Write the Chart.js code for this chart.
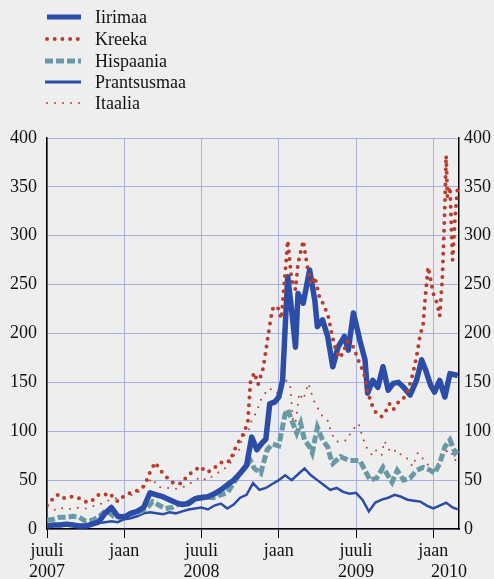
<!DOCTYPE html>
<html>
<head>
<meta charset="utf-8">
<script src="https://cdn.jsdelivr.net/npm/chart.js@4/dist/chart.umd.min.js"></script>
<style>
  body { margin: 0; background: #eeeeee; }
  #wrap { position: relative; width: 494px; height: 579px; }
  .leg { position: absolute; left: 45px; height: 22px; font: 18px "Liberation Serif", serif; color: #111; }
  .leg svg { position: absolute; left: 0; top: 6px; }
  .leg span { position: absolute; left: 50px; top: 0; white-space: nowrap; line-height: 22px; }
</style>
</head>
<body>
<div id="wrap">
  <canvas id="chart" width="494" height="579"></canvas>
  <div class="leg" style="top:6px"><svg width="40" height="10"><line x1="2" y1="5" x2="36" y2="5" stroke="#2b4da8" stroke-width="5"/></svg><span>Iirimaa</span></div>
  <div class="leg" style="top:28px"><svg width="40" height="10"><line x1="2" y1="5" x2="36" y2="5" stroke="#b93d2e" stroke-width="4" stroke-dasharray="0 7.7" stroke-linecap="round"/></svg><span>Kreeka</span></div>
  <div class="leg" style="top:50px"><svg width="40" height="10"><line x1="0" y1="5" x2="36" y2="5" stroke="#6a99a6" stroke-width="5" stroke-dasharray="8 3"/></svg><span>Hispaania</span></div>
  <div class="leg" style="top:71px"><svg width="40" height="10"><line x1="0" y1="5" x2="36" y2="5" stroke="#2b4da8" stroke-width="3"/></svg><span>Prantsusmaa</span></div>
  <div class="leg" style="top:92px"><svg width="40" height="10"><line x1="2" y1="5" x2="36" y2="5" stroke="#b93d2e" stroke-width="2" stroke-dasharray="0 8" stroke-linecap="round"/></svg><span>Itaalia</span></div>
</div>
<script>
// kuud alates juuli 2007 (0 = juuli 2007, 6 = jaan 2008, ...)
const irlM = [0,0.5,1,1.5,2,2.5,3,3.5,4,4.5,5,5.5,6,6.5,7,7.5,8,8.5,9,9.5,10,10.5,11,11.5,12,12.5,13,13.5,14,14.5,15,15.5,
  15.9,16.3,16.7,17,17.3,17.7,18,18.3,18.5,18.7,19,19.3,19.5,19.9,20.4,20.8,21,21.4,21.8,22.2,
  22.6,23.1,23.4,23.8,24.3,24.7,24.9,25.3,25.7,26.1,26.5,26.9,27.3,27.7,28.2,28.7,29.1,29.4,29.8,30.1,30.5,30.9,31.3,31.9];
const irlV = [3,4,4,5,4,3,3,5,7,16,22,13,12,16,18,22,37,35,33,30,27,25,26,31,32,33,36,40,45,50,57,65,
  94,81,88,92,128,130,135,152,207,258,224,186,241,231,265,234,207,214,197,166,
  186,197,183,221,193,173,139,152,145,166,142,149,150,145,137,152,173,163,147,140,152,135,159,157];

const grcM = [0,0.4,0.8,1.2,1.6,2.0,2.4,2.8,3.2,3.6,4.0,4.4,4.8,5.2,5.5,5.9,6.3,6.7,7.2,7.6,
  8.0,8.4,8.8,9.3,9.7,10.1,10.5,10.9,11.3,11.9,12.4,12.8,13.4,13.8,14.2,14.6,15.0,15.3,15.6,15.8,
  16.1,16.4,16.8,17.2,17.5,17.9,18.2,18.5,18.7,19.0,19.3,19.5,19.9,20.2,20.5,20.8,21.2,21.5,21.9,22.1,
  22.4,22.7,23.0,23.3,23.8,24.2,24.6,24.9,25.3,25.6,26.0,26.3,26.6,26.9,27.3,27.7,28.0,28.4,28.7,29.0,
  29.2,29.4,29.6,29.8,30.0,30.3,30.5,30.7,30.8,30.9,31.0,31.1,31.3,31.5,31.7,31.9];
const grcV = [24,30,35,31,33,33,32,29,27,30,35,34,37,32,28,33,36,38,40,45,
  58,68,60,53,48,46,47,55,58,64,58,60,67,70,69,82,92,98,110,150,
  160,148,165,200,225,228,215,262,295,255,245,272,295,270,250,258,235,230,215,200,
  185,175,180,192,186,172,160,140,125,118,115,120,128,122,130,134,140,158,176,200,
  207,240,268,255,241,231,218,255,290,330,382,340,350,275,320,350];

const espM = [0,0.5,1,1.5,2,2.5,3,3.5,4,4.6,5.2,5.6,6.1,6.6,7.2,7.8,8.2,8.6,9.2,9.7,
  10.2,10.9,11.6,12.3,12.9,13.5,14.0,14.4,14.8,15.3,15.8,16.1,16.6,17.1,17.5,18.0,18.5,18.7,19.1,19.4,
  19.7,20.0,20.4,20.6,21.0,21.4,21.8,22.0,22.2,22.8,23.5,24.3,24.7,25.1,25.6,26.1,26.8,27.2,27.7,28.2,
  28.7,29.2,29.8,30.1,30.5,30.9,31.3,31.7,31.9];
const espV = [9,10,12,12,13,12,8,9,12,19,13,12,14,16,17,22,28,25,21,22,
  25,27,32,33,32,35,37,45,53,62,70,62,57,81,87,85,118,122,108,98,
  108,91,84,78,104,91,84,74,67,74,70,70,60,50,52,63,48,60,50,52,
  60,63,60,57,67,84,91,78,81];

const fraM = [0,0.5,1,1.5,2,2.5,3,3.5,4,4.5,5,5.5,6,6.5,7,7.5,8,8.5,9,9.5,10,10.5,11,11.5,12,12.5,13,13.5,14,14.5,15,15.5,
  16,16.5,17,17.5,18,18.5,19,19.5,20,20.5,21,21.5,22,22.5,23,23.5,24,24.5,25,25.5,26,26.5,27,27.5,28,28.5,29,29.5,30,30.5,31,31.5,31.9];
const fraV = [5,4,5,4,5,3,3,4,6,7,8,7,10,11,13,16,17,16,15,17,16,18,20,21,22,20,24,26,21,25,32,35,
  47,40,42,46,50,55,50,56,62,55,50,45,40,42,38,36,37,30,18,27,30,32,35,33,30,29,28,24,21,24,27,22,20];

const itaM = [0,0.5,1,1.5,2,2.5,3,3.5,4,4.5,5,5.6,6.1,6.6,7.1,7.6,8.2,8.6,9.3,10.0,
  10.6,11.3,11.9,12.4,13.2,13.8,14.2,14.5,14.9,15.2,15.6,15.9,16.3,16.6,17.0,17.3,17.7,18.1,18.6,18.9,
  19.1,19.3,19.6,19.9,20.3,20.7,21.1,21.4,21.8,22.1,22.4,22.8,23.3,23.7,24.2,24.5,24.9,25.3,25.6,26.0,
  26.2,26.7,27.2,27.6,28.0,28.4,28.8,29.5,30.0,30.4,30.8,31.3,31.7,31.9];
const itaV = [20,19,22,20,21,22,21,23,25,27,31,32,33,35,38,44,52,43,42,41,
  43,48,53,50,57,62,66,75,80,95,98,111,120,132,140,144,139,140,152,145,
  112,108,139,132,149,132,122,115,111,98,90,89,91,101,108,94,81,75,81,76,
  90,78,81,74,72,64,78,67,60,67,78,81,70,78];

// x telje märgendid (kuu -> tekst)
const xTicks = { 0: ['juuli', '2007'], 6: ['jaan'], 12: ['juuli', '2008'], 18: ['jaan'], 24: ['juuli', '2009'], 30: ['jaan', '\u00a0\u00a0\u00a0\u00a0\u00a0\u00a0\u00a02010'] };

const pts = (m, v) => m.map((x, i) => ({ x: x, y: v[i] }));

const blue = '#2b4da8', red = '#b93d2e', teal = '#6a99a6', grid = '#a9b0e0';
const font = { family: 'Liberation Serif', size: 18 };

new Chart(document.getElementById('chart'), {
  type: 'line',
  data: {
    datasets: [
      { label: 'Iirimaa', data: pts(irlM, irlV), borderColor: blue, borderWidth: 5.5, borderJoinStyle: 'round', order: 1 },
      { label: 'Kreeka', data: pts(grcM, grcV), borderColor: red, borderWidth: 4, borderDash: [0, 7.7], borderCapStyle: 'round', order: 0 },
      { label: 'Hispaania', data: pts(espM, espV), borderColor: teal, borderWidth: 5, borderDash: [8, 3], order: 2 },
      { label: 'Prantsusmaa', data: pts(fraM, fraV), borderColor: blue, borderWidth: 2.5, order: 4 },
      { label: 'Itaalia', data: pts(itaM, itaV), borderColor: red, borderWidth: 2, borderDash: [0, 8], borderCapStyle: 'round', order: 3 }
    ]
  },
  options: {
    responsive: false, animation: false,
    layout: { padding: { top: 138, right: 0, left: 0, bottom: 0 } },
    elements: { point: { radius: 0 }, line: { tension: 0 } },
    plugins: { legend: { display: false }, tooltip: { enabled: false } },
    scales: {
      x: {
        type: 'linear', min: 0, max: 32,
        afterFit: s => { s.height = 50; },
        border: { color: '#000', width: 1.5 },
        grid: { color: grid, tickColor: '#000', tickLength: 9, lineWidth: 1 },
        ticks: {
          stepSize: 6, includeBounds: false, maxRotation: 0, autoSkip: false,
          color: '#111', font: font, padding: 2,
          callback: v => xTicks[v] || ''
        }
      },
      y: {
        position: 'left', min: 0, max: 400,
        afterFit: s => { s.width = 47; },
        border: { color: '#000', width: 1.5 },
        grid: { color: grid, drawTicks: false },
        ticks: { stepSize: 50, color: '#111', font: font, padding: 10 }
      },
      y2: {
        position: 'right', min: 0, max: 400,
        afterFit: s => { s.width = 35; },
        border: { color: '#000', width: 1.5 },
        grid: { display: false, drawTicks: false },
        ticks: { stepSize: 50, color: '#111', font: font, padding: 5 }
      }
    }
  }
});
</script>
</body>
</html>
